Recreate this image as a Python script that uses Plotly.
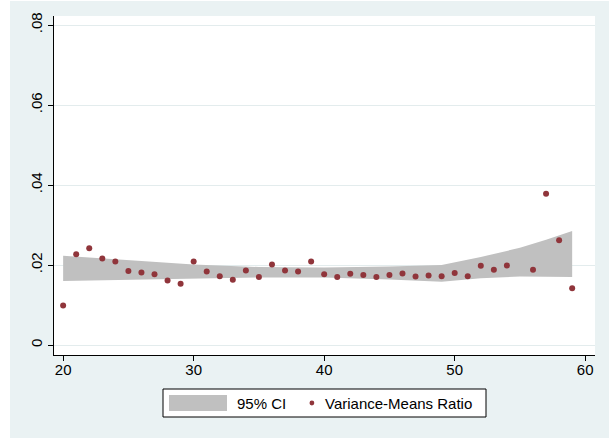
import plotly.graph_objects as go

# ---- data ----
ages = list(range(20, 55)) + [56, 57, 58, 59]
ratio = [0.0099, 0.0227, 0.0242, 0.0216, 0.0209, 0.0185, 0.0181, 0.0177, 0.0161, 0.0153,
         0.0209, 0.0184, 0.0172, 0.0163, 0.0186, 0.0170, 0.0201, 0.0186, 0.0184, 0.0209,
         0.0177, 0.0170, 0.0178, 0.0175, 0.0170, 0.0175, 0.0179, 0.0171, 0.0174, 0.0172,
         0.0180, 0.0172, 0.0198, 0.0188, 0.0199,
         0.0188, 0.0378, 0.0262, 0.0142]

band_x = [20, 25, 30, 35, 40, 45, 49, 52, 55, 57, 59]
ci_upper = [0.0223, 0.0212, 0.0201, 0.0195, 0.0194, 0.0196, 0.0200, 0.0220, 0.0243, 0.0263, 0.0285]
ci_lower = [0.0160, 0.0163, 0.0166, 0.0169, 0.0169, 0.0164, 0.0158, 0.0167, 0.0171, 0.0171, 0.0170]

y_tickvals = [0, 0.02, 0.04, 0.06, 0.08]
y_ticktext = ["0", ".02", ".04", ".06", ".08"]
x_tickvals = [20, 30, 40, 50, 60]
legend_labels = ["95% CI", "Variance-Means Ratio"]

# ---- style ----
W, H = 609, 439
ML, MR, MT, MB = 54, 14, 16, 84
PW, PH = W - ML - MR, H - MT - MB
BG = "#EAF2F3"
GRID = "#E3ECED"
DOT = "rgb(144,53,59)"
BAND = "#C0C0C0"
FONT = "Liberation Sans, Arial, sans-serif"


def px(x):
    return (x - ML) / PW


def py(y):
    return (H - MB - y) / PH


fig = go.Figure()
fig.add_trace(go.Scatter(
    x=band_x + band_x[::-1], y=ci_upper + ci_lower[::-1],
    fill="toself", fillcolor=BAND, line=dict(width=0), mode="lines",
    name=legend_labels[0], showlegend=False, hoverinfo="skip"))
fig.add_trace(go.Scatter(
    x=ages, y=ratio, mode="markers",
    marker=dict(color=DOT, size=6, line=dict(width=0)),
    name=legend_labels[1], showlegend=False))

shapes = [
    # outer graph region
    dict(type="rect", xref="paper", yref="paper", x0=px(10), x1=px(609), y0=py(438), y1=py(1),
         fillcolor=BG, line=dict(width=0), layer="below"),
    # plot region
    dict(type="rect", xref="paper", yref="paper", x0=0, x1=1, y0=0, y1=1,
         fillcolor="white", line=dict(width=0), layer="below"),
    # legend box
    dict(type="rect", xref="paper", yref="paper", x0=px(163), x1=px(486), y0=py(417), y1=py(389),
         fillcolor="white", line=dict(color="black", width=1)),
    # legend swatch
    dict(type="rect", xref="paper", yref="paper", x0=px(169), x1=px(227), y0=py(411), y1=py(395),
         fillcolor=BAND, line=dict(width=0)),
    # legend dot
    dict(type="circle", xref="paper", yref="paper", x0=px(309.5), x1=px(314.3), y0=py(405.4), y1=py(400.6),
         fillcolor=DOT, line=dict(width=0)),
]
annotations = [
    dict(text=legend_labels[0], xref="paper", yref="paper", x=px(235), y=py(403.5),
         xanchor="left", yanchor="middle", showarrow=False, font=dict(size=15, color="black", family=FONT)),
    dict(text=legend_labels[1], xref="paper", yref="paper", x=px(323), y=py(403.5),
         xanchor="left", yanchor="middle", showarrow=False, font=dict(size=15, color="black", family=FONT)),
]

fig.update_layout(
    width=W, height=H, margin=dict(l=ML, r=MR, t=MT, b=MB, pad=0),
    paper_bgcolor="white", plot_bgcolor="white",
    font=dict(family=FONT, size=15, color="black"),
    shapes=shapes, annotations=annotations, showlegend=False,
    xaxis=dict(range=[19.3, 60.75], tickvals=x_tickvals, ticks="outside", ticklen=5, tickwidth=1,
               tickcolor="black", showline=True, linecolor="black", linewidth=1,
               showgrid=False, zeroline=False, tickfont=dict(size=15), ticklabelstandoff=-4),
    yaxis=dict(range=[-0.0025, 0.08225], tickvals=y_tickvals, ticktext=y_ticktext, tickangle=-90,
               ticks="outside", ticklen=5, tickwidth=1, tickcolor="black",
               showline=True, linecolor="black", linewidth=1,
               showgrid=True, gridcolor=GRID, gridwidth=1, zeroline=False, tickfont=dict(size=15)),
)

fig.write_html("out.html")
